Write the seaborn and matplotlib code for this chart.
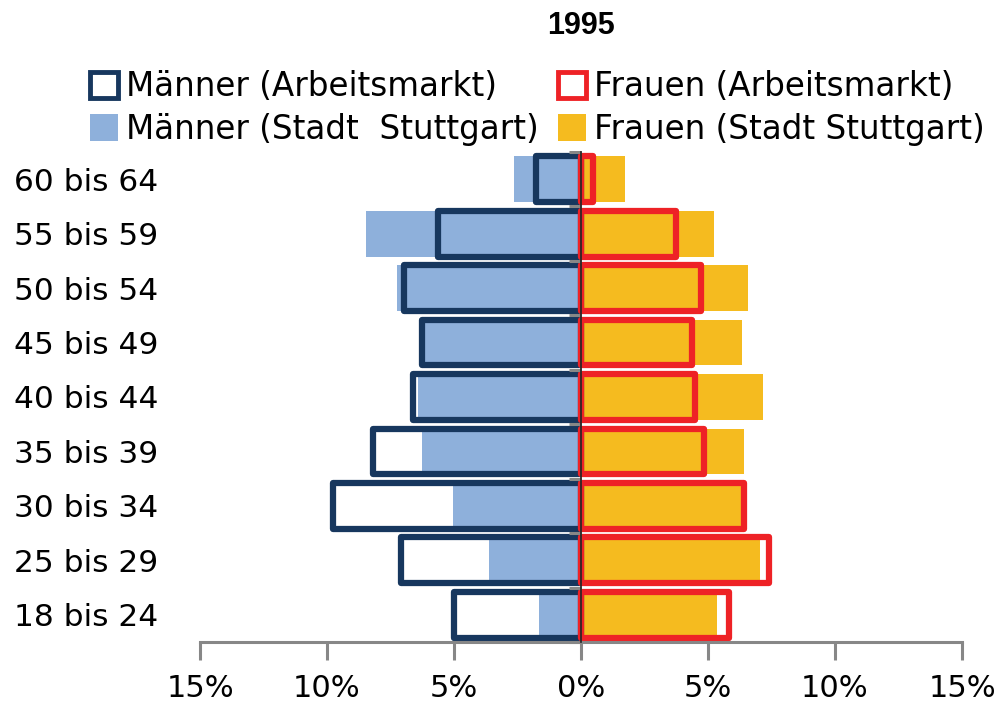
import matplotlib
matplotlib.use("Agg")
import matplotlib.pyplot as plt
from matplotlib.patches import Patch
import seaborn as sns
import pandas as pd

# Altersgruppen (von oben nach unten) und Anteile in %
ages = ["60 bis 64", "55 bis 59", "50 bis 54", "45 bis 49", "40 bis 44",
        "35 bis 39", "30 bis 34", "25 bis 29", "18 bis 24"]
men_stadt = [2.64, 8.46, 7.24, 6.30, 6.42, 6.26, 5.04, 3.62, 1.65]
men_arbeit = [1.77, 5.63, 6.97, 6.26, 6.61, 8.19, 9.76, 7.09, 5.00]
women_stadt = [1.73, 5.24, 6.57, 6.34, 7.17, 6.42, 6.34, 7.05, 5.35]
women_arbeit = [0.47, 3.74, 4.72, 4.37, 4.49, 4.84, 6.42, 7.40, 5.83]
xticks = [-15, -10, -5, 0, 5, 10, 15]

labels = {
    "ma": "Männer (Arbeitsmarkt)",
    "fa": "Frauen (Arbeitsmarkt)",
    "ms": "Männer (Stadt  Stuttgart)",
    "fs": "Frauen (Stadt Stuttgart)",
}

df = pd.DataFrame({
    "age": ages,
    "men_stadt": [-v for v in men_stadt],
    "men_arbeit": [-v for v in men_arbeit],
    "women_stadt": women_stadt,
    "women_arbeit": women_arbeit,
})

NAVY = "#17375E"
RED = "#EE2226"
LIGHTBLUE = "#8EB0DB"
GOLD = "#F5BB1F"
GRAY = "#878787"

sns.set_theme(style="white")
plt.rcParams["font.family"] = ["DejaVu Sans"]
plt.rcParams["text.color"] = "black"

fig = plt.figure(figsize=(10.05, 7.04), dpi=100)
ax = fig.add_axes([200 / 1005, 1 - 642 / 704, 762 / 1005, 490 / 704])

bw = 0.84
# filled bars (Stadt Stuttgart)
sns.barplot(data=df, y="age", x="men_stadt", order=ages, color=LIGHTBLUE,
            width=bw, errorbar=None, saturation=1, linewidth=0, ax=ax)
sns.barplot(data=df, y="age", x="women_stadt", order=ages, color=GOLD,
            width=bw, errorbar=None, saturation=1, linewidth=0, ax=ax)
# outline bars (Arbeitsmarkt)
sns.barplot(data=df, y="age", x="men_arbeit", order=ages, color=NAVY,
            fill=False, width=bw, errorbar=None, saturation=1,
            linewidth=4.5, ax=ax)
sns.barplot(data=df, y="age", x="women_arbeit", order=ages, color=RED,
            fill=False, width=bw, errorbar=None, saturation=1,
            linewidth=4.5, ax=ax)
for p in ax.patches:
    p.set_joinstyle("round")

ax.set_xlim(-15, 15)
ax.set_ylim(len(ages) - 0.5, -0.5)
ax.set_xlabel("")
ax.set_ylabel("")

ax.set_xticks(xticks)
ax.set_xticklabels([f"{abs(t)}%" for t in xticks], fontsize=22)
ax.tick_params(axis="x", bottom=True, length=13, width=2.2, color=GRAY,
               pad=10, labelcolor="black")
ax.tick_params(axis="y", left=False, labelsize=22.5, pad=24, labelcolor="black")

for side in ["top", "right", "left"]:
    ax.spines[side].set_visible(False)
ax.spines["bottom"].set_color(GRAY)
ax.spines["bottom"].set_linewidth(2.2)

# vertical axis at 0 with category boundary ticks
sec = ax.secondary_yaxis(0.5)
sec.set_yticks([i - 0.5 for i in range(len(ages) + 1)])
sec.set_yticklabels([])
sec.tick_params(axis="y", length=9, width=2.2, color=GRAY, direction="in")
sec.spines["left"].set_color(GRAY)
sec.spines["left"].set_linewidth(2.2)
sec.set_zorder(5)

fig.text(0.578, 1 - 26 / 704, "1995", ha="center", va="center",
         fontsize=22, fontweight="bold", family="Liberation Sans")

handles = [
    Patch(facecolor="white", edgecolor=NAVY, linewidth=3.5, label=labels["ma"]),
    Patch(facecolor=LIGHTBLUE, edgecolor="none", label=labels["ms"]),
    Patch(facecolor="white", edgecolor=RED, linewidth=3.5, label=labels["fa"]),
    Patch(facecolor=GOLD, edgecolor="none", label=labels["fs"]),
]
fig.legend(handles=handles, ncol=2, loc="upper left",
           bbox_to_anchor=(90 / 1005, 1 - 70 / 704), frameon=False,
           fontsize=23.5, handlelength=0.85, handleheight=0.85,
           handletextpad=0.25, columnspacing=0.6, labelspacing=0.3,
           borderaxespad=0, borderpad=0, labelcolor="black")

fig.savefig("out.png", dpi=100)
